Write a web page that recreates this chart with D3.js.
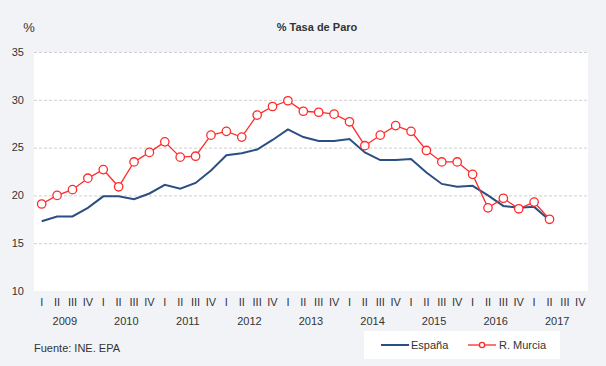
<!DOCTYPE html>
<html><head><meta charset="utf-8">
<script src="https://cdn.jsdelivr.net/npm/d3@7/dist/d3.min.js"></script>
<style>
html,body{margin:0;padding:0;background:#f2f3f7;}
svg{display:block;font-family:"Liberation Sans",Arial,sans-serif;}
</style></head><body>
<svg id="c" width="606" height="366"></svg>
<script>
const years = ["2009","2010","2011","2012","2013","2014","2015","2016","2017"];
const quarters = ["I","II","III","IV"];
const espana = [17.3,17.8,17.8,18.7,19.9,19.9,19.6,20.2,21.1,20.7,21.3,22.6,24.2,24.4,24.8,25.8,26.9,26.1,25.7,25.7,25.9,24.5,23.7,23.7,23.8,22.4,21.2,20.9,21.0,20.0,18.9,18.7,18.8,17.4];
const murcia = [19.1,20.0,20.6,21.8,22.7,20.9,23.5,24.5,25.6,24.0,24.1,26.3,26.7,26.1,28.4,29.3,29.9,28.8,28.7,28.5,27.7,25.2,26.3,27.3,26.7,24.7,23.5,23.5,22.2,18.7,19.7,18.6,19.3,17.5];
const yTicks = [10,15,20,25,30,35];

const svg = d3.select("#c");
const L=34, R=588, T=52, B=291;
const slots = [];
years.forEach(y=>quarters.forEach(q=>slots.push(y+"-"+q)));
const x = d3.scaleBand().domain(slots).range([L,R]);
const y = d3.scaleLinear().domain([10,35]).range([B,T]);
const cx = i => x(slots[i]) + x.bandwidth()/2;

svg.append("rect").attr("x",L).attr("y",T).attr("width",R-L).attr("height",B-T).attr("fill","#fff");

// gridlines
svg.append("g").selectAll("line").data(yTicks.filter(t=>t>10)).join("line")
  .attr("x1",L).attr("x2",R).attr("y1",d=>y(d)+0.5).attr("y2",d=>y(d)+0.5)
  .attr("stroke","#cfcfcf").attr("stroke-width",1).attr("stroke-dasharray","3,2");

// y labels
svg.append("g").selectAll("text").data(yTicks).join("text")
  .attr("x",24).attr("y",d=>y(d)).attr("dy","0.35em").attr("text-anchor","end")
  .attr("font-size",11).attr("fill","#333").text(d=>d);

// quarter labels
svg.append("g").selectAll("text").data(slots).join("text")
  .attr("x",d=>x(d)+x.bandwidth()/2).attr("y",302).attr("dy","0.35em").attr("text-anchor","middle")
  .attr("font-size",11).attr("fill","#333").text(d=>d.split("-")[1]);

// year labels
svg.append("g").selectAll("text").data(years).join("text")
  .attr("x",d=>(x(d+"-II")+x(d+"-III")+x.bandwidth())/2).attr("y",321.5).attr("dy","0.35em").attr("text-anchor","middle")
  .attr("font-size",11).attr("fill","#333").text(d=>d);

// title
svg.append("text").attr("x",317).attr("y",27).attr("dy","0.35em").attr("text-anchor","middle")
  .attr("font-size",11).attr("font-weight","bold").attr("fill","#333").text("% Tasa de Paro");
svg.append("text").attr("x",29).attr("y",27).attr("dy","0.35em").attr("text-anchor","middle")
  .attr("font-size",13).attr("fill","#333").text("%");

const line = d3.line().x((d,i)=>cx(i)).y(d=>y(d));
svg.append("path").datum(espana).attr("d",line).attr("fill","none")
  .attr("stroke","#2b4f80").attr("stroke-width",2);
svg.append("path").datum(murcia).attr("d",line).attr("fill","none")
  .attr("stroke","#ff2a2a").attr("stroke-width",1.3);
svg.append("g").selectAll("circle").data(murcia).join("circle")
  .attr("cx",(d,i)=>cx(i)).attr("cy",d=>y(d)).attr("r",4.2)
  .attr("fill","#fff").attr("stroke","#ff2a2a").attr("stroke-width",1.3);

// footer
svg.append("text").attr("x",34).attr("y",348.5).attr("dy","0.35em")
  .attr("font-size",11).attr("fill","#333").text("Fuente: INE. EPA");

// legend
const lg = svg.append("g");
lg.append("rect").attr("x",364).attr("y",331).attr("width",196).attr("height",28).attr("fill","#fff");
lg.append("line").attr("x1",381).attr("x2",409).attr("y1",345).attr("y2",345).attr("stroke","#2b4f80").attr("stroke-width",2);
lg.append("text").attr("x",411).attr("y",345).attr("dy","0.35em").attr("font-size",11).attr("fill","#333").text("España");
lg.append("line").attr("x1",468).attr("x2",496).attr("y1",345).attr("y2",345).attr("stroke","#ff2a2a").attr("stroke-width",1.3);
lg.append("circle").attr("cx",482).attr("cy",345).attr("r",2.6).attr("fill","#fff").attr("stroke","#ff2a2a").attr("stroke-width",1.3);
lg.append("text").attr("x",499).attr("y",345).attr("dy","0.35em").attr("font-size",11).attr("fill","#333").text("R. Murcia");
</script>
</body></html>
